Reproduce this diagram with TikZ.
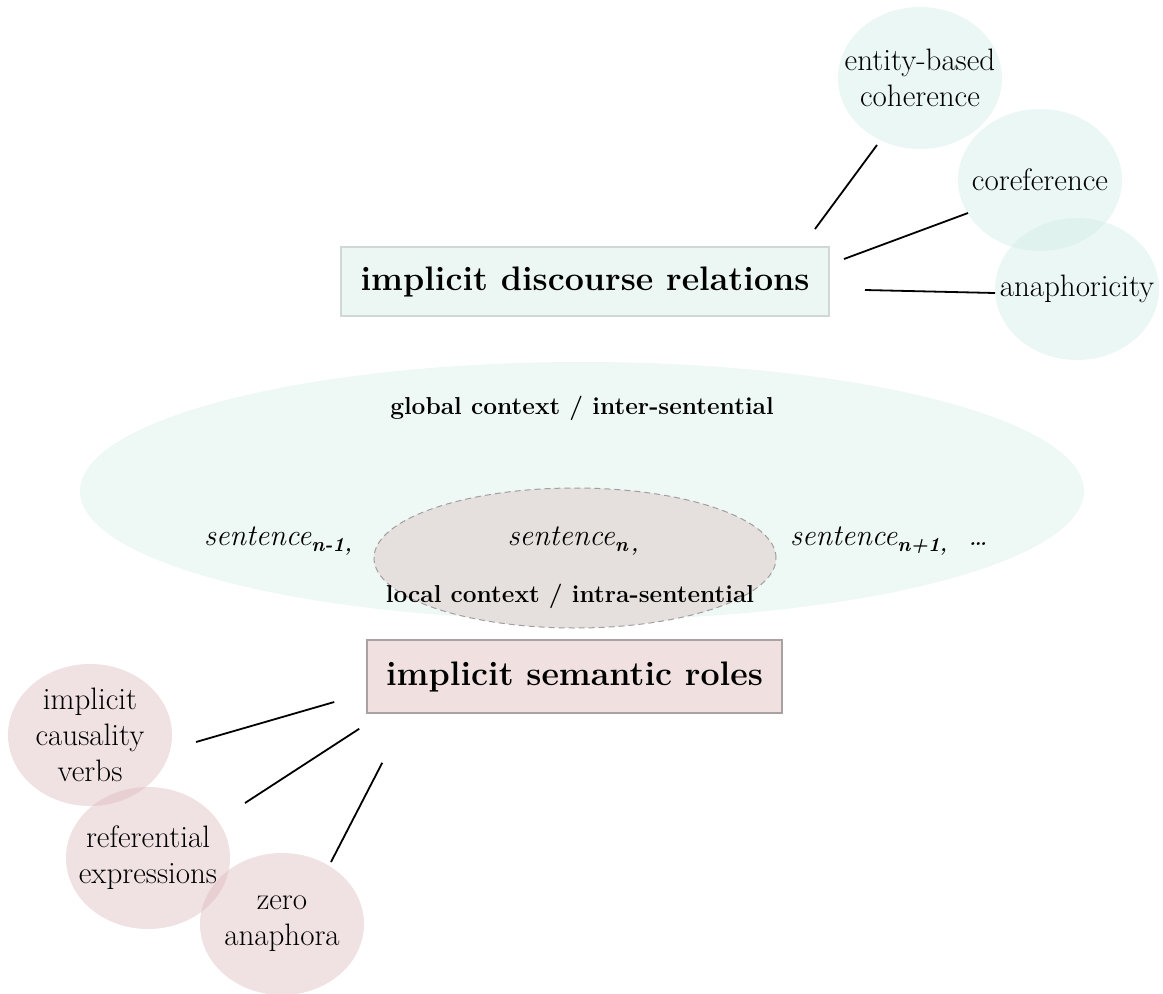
\documentclass[tikz,border=0pt]{standalone}
\usepackage{tikz}
\usetikzlibrary{shapes.geometric}
\definecolor{mintbase}{RGB}{211,237,231}
\definecolor{pinkbase}{RGB}{222,188,191}
\definecolor{contextfill}{RGB}{238,248,245}
\definecolor{localfill}{RGB}{229,224,221}
\definecolor{localedge}{RGB}{160,160,160}
\definecolor{discfill}{RGB}{236,247,244}
\definecolor{discedge}{RGB}{207,216,213}
\definecolor{semfill}{RGB}{240,224,224}
\definecolor{semedge}{RGB}{169,162,162}
\newcommand{\sub}[1]{\raisebox{-0.4ex}{\fontsize{20}{20}\selectfont\bfseries\itshape #1}}
\begin{document}
\begin{tikzpicture}[x=1pt,y=-1pt,
  bubble/.style={ellipse, minimum width=164, minimum height=142, inner sep=-60pt,
    align=center, font=\fontsize{31}{36}\selectfont},
  mintbubble/.style={bubble, fill=mintbase, fill opacity=0.45, text opacity=1},
  pinkbubble/.style={bubble, fill=pinkbase, fill opacity=0.45, text opacity=1},
  topicbox/.style={rectangle, inner sep=0pt, font=\fontsize{34}{40}\selectfont\bfseries},
  link/.style={line width=1.8pt, black},
  context/.style={font=\fontsize{24.5}{28}\selectfont\bfseries},
  sent/.style={font=\fontsize{30}{34}\selectfont\itshape, inner sep=0pt}]
\useasboundingbox (0,0) rectangle (1163,994);

% outer context: the surrounding sentences
\node[ellipse, fill=contextfill, minimum width=1004, minimum height=258, inner sep=0pt] (glob) at (582,491) {};
\node[context] (globlbl) at (582,408) {global context / inter-sentential};

% inner context: the current sentence
\node[ellipse, fill=localfill, draw=localedge, dashed, dash pattern=on 6pt off 4pt, line width=1pt,
  minimum width=402, minimum height=140, inner sep=0pt] (loc) at (575,558) {};
\node[sent] (sn) at (573,541) {sentence\sub{n\,,}};
\node[context] (loclbl) at (570,596) {local context / intra-sentential};
\node[sent, anchor=west] (snm) at (204,541) {sentence\sub{n-1,}};
\node[sent, anchor=west] (snp) at (790,541) {sentence\sub{n+1,}\ \ \dots};

% the two phenomena
\node[topicbox, fill=discfill, draw=discedge, line width=2pt, minimum width=488, minimum height=69] (idr) at (585,281.5) {implicit discourse relations};
\node[topicbox, fill=semfill, draw=semedge, line width=1.5pt, minimum width=415, minimum height=73] (isr) at (574.5,676.5) {implicit semantic roles};

% related tasks, discourse side
\node[mintbubble] (ent) at (920,78) {entity-based\\coherence};
\node[mintbubble] (coref) at (1040,180) {coreference};
\node[mintbubble] (anaph) at (1077,289) {anaphoricity};

% related tasks, semantic-role side
\node[pinkbubble] (ics) at (90,735) {implicit\\causality\\verbs};
\node[pinkbubble] (ref) at (148,858) {referential\\expressions};
\node[pinkbubble] (zero) at (282,924) {zero\\anaphora};

% connectors
\draw[link] ([shift={(-15,-17)}]idr.north east) -- ([shift={(-43,67)}]ent.center);
\draw[link] ([shift={(14,13)}]idr.north east) -- ([shift={(-72,33)}]coref.center);
\draw[link] ([shift={(35,8.5)}]idr.east) -- ([shift={(-82,4)}]anaph.center);
\draw[link] ([shift={(106,7)}]ics.center) -- ([shift={(-32,25.5)}]isr.west);
\draw[link] ([shift={(97,-55)}]ref.center) -- ([shift={(-7,15)}]isr.south west);
\draw[link] ([shift={(49,-62)}]zero.center) -- ([shift={(16,49)}]isr.south west);
\end{tikzpicture}
\end{document}
